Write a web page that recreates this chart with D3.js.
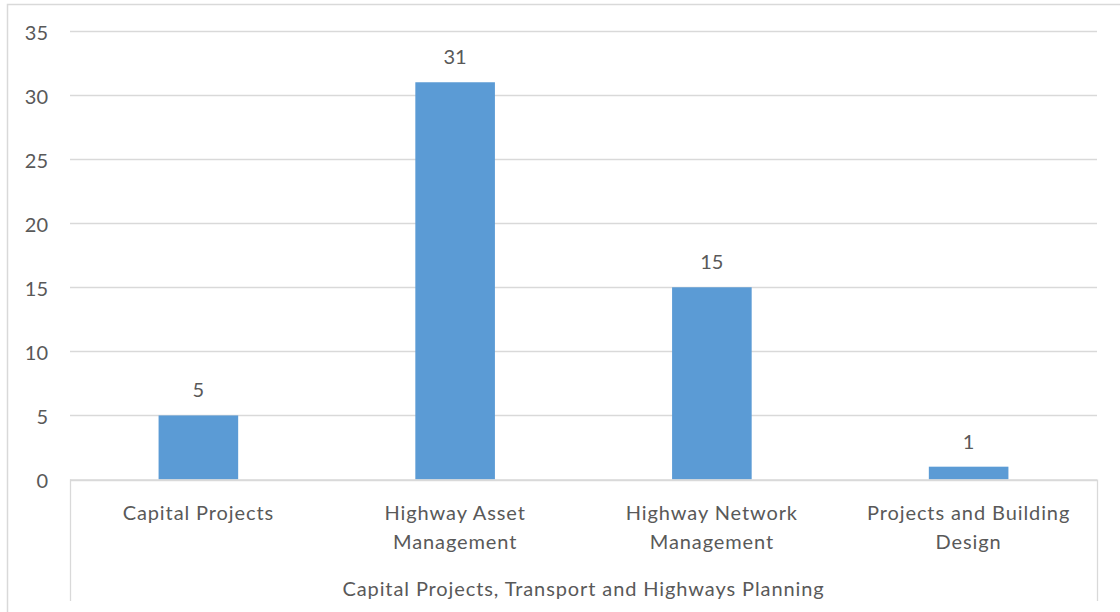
<!DOCTYPE html>
<html><head><meta charset="utf-8">
<script src="https://cdn.jsdelivr.net/npm/d3@7"></script>
<style>body{margin:0;background:#fff}svg{display:block}text{font-family:Lato,"Liberation Sans",sans-serif;fill:#595959}</style>
</head><body>
<script>
const categories = [["Capital Projects"],["Highway Asset","Management"],["Highway Network","Management"],["Projects and Building","Design"]];
const values = [5,31,15,1];
const yTicks = [0,5,10,15,20,25,30,35];
const groupLabel = "Capital Projects, Transport and Highways Planning";

(function(){
const W=1120,H=612;
const FS=20, LS="0.9px";
const svg=d3.select("body").append("svg").attr("width",W).attr("height",H);
// outer frame (left & top edges visible)
svg.append("rect").attr("x",7.5).attr("y",4.5).attr("width",1200).attr("height",700)
  .attr("fill","none").attr("stroke","#d9d9d9").attr("stroke-width",1.5);

const pLeft=70,pRight=1097,pTop=31,pBottom=479.5;
const x=d3.scaleBand().domain(d3.range(categories.length)).range([pLeft,pRight]).paddingInner(0.69).paddingOuter(0.345);
const y=d3.scaleLinear().domain([0,35]).range([pBottom,pTop]);

// gridlines
svg.append("g").selectAll("line").data(yTicks).join("line")
  .attr("x1",pLeft).attr("x2",pRight).attr("y1",d=>Math.round(y(d))+0.5).attr("y2",d=>Math.round(y(d))+0.5)
  .attr("stroke","#d9d9d9").attr("stroke-width",1.3);

// y axis labels
const yAxis=d3.axisLeft(y).tickValues(yTicks).tickSize(0).tickPadding(0);
const ga=svg.append("g").attr("transform",`translate(48,0)`).call(yAxis);
ga.select(".domain").remove();
ga.selectAll("text").attr("font-size",FS).style("font-family","Lato,sans-serif").attr("fill","#595959").attr("dy","0.42em");

// bars
svg.append("g").selectAll("rect").data(values).join("rect")
  .attr("x",(d,i)=>x(i)).attr("width",x.bandwidth())
  .attr("y",d=>y(d)).attr("height",d=>y(0)-y(d)).attr("fill","#5b9bd5");

// data labels
svg.append("g").selectAll("text").data(values).join("text")
  .attr("x",(d,i)=>x(i)+x.bandwidth()/2).attr("y",d=>y(d)-18)
  .attr("text-anchor","middle").attr("font-size",FS).text(d=>d);

// x axis line
svg.append("line").attr("x1",pLeft).attr("x2",pRight).attr("y1",pBottom+0.5).attr("y2",pBottom+0.5).attr("stroke","#d9d9d9").attr("stroke-width",1.3);
// outer vertical separators
[pLeft,pRight].forEach(v=>svg.append("line").attr("x1",v+0.5).attr("x2",v+0.5).attr("y1",pBottom).attr("y2",601).attr("stroke","#d9d9d9").attr("stroke-width",1.3));

// category labels
const cg=svg.append("g").selectAll("text").data(categories).join("text")
  .attr("text-anchor","middle").attr("font-size",FS).style("letter-spacing",LS);
cg.each(function(lines,i){
  d3.select(this).selectAll("tspan").data(lines).join("tspan")
    .attr("x",x(i)+x.bandwidth()/2).attr("y",(d,j)=>520+j*29).text(d=>d);
});

svg.append("text").attr("x",(pLeft+pRight)/2).attr("y",596).attr("text-anchor","middle").attr("font-size",FS).style("letter-spacing",LS).text(groupLabel);
})();
</script>
</body></html>
